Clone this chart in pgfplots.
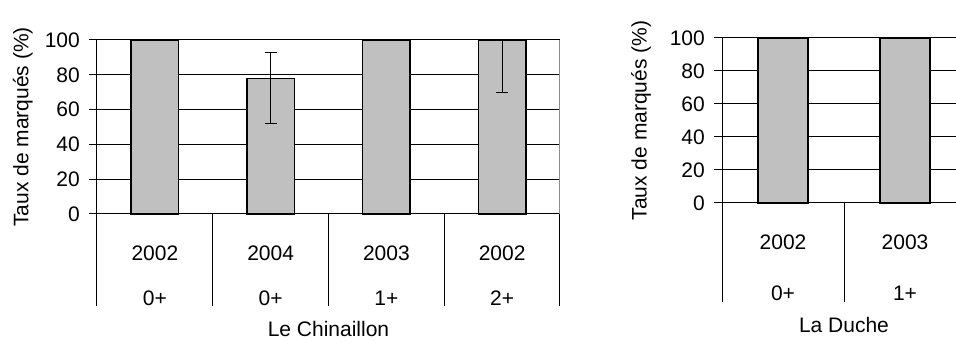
\documentclass[border=0pt]{standalone}
\usepackage{fontspec}
\setmainfont{Liberation Sans}
\usepackage{pgfplots}
\pgfplotsset{compat=1.18}
\definecolor{barfill}{HTML}{C0C0C0}
\definecolor{frame}{HTML}{8C8C8C}
\newcommand{\bigfont}{\fontsize{21}{25}\selectfont}
\pgfplotsset{
  common/.style={
    scale only axis,
    anchor=south west,
    ymin=0, ymax=100,
    ytick={0,20,...,80},
    extra y ticks={100},
    extra y tick style={grid style={frame, line width=1pt}},
    ymajorgrids,
    major grid style={black, line width=1pt},
    axis x line*=bottom,
    axis y line*=left,
    axis line style={black, line width=1pt},
    every outer x axis line/.append style={-},
    every outer y axis line/.append style={-},
    ytick align=outside,
    ytick style={black, line width=1pt},
    major tick length=8pt,
    xtick style={draw=none},
    /pgf/number format/assume math mode=true,
    yticklabel={\pgfmathprintnumber{\tick}},
    tick label style={font=\bigfont},
    label style={font=\bigfont},
    yticklabel style={anchor=east, inner sep=0pt, xshift=-9pt},
    xtick=data,
    xticklabel style={anchor=base, inner sep=0pt},
    extra x tick style={xtick style={draw=none}},
    clip=false,
    ybar,
    bar width=0.41,
    ylabel={Taux de marqués (\%)},
    ylabel style={anchor=center, rotate=0},
  },
  mybar/.style={fill=barfill, draw=black, line width=1.3pt,
    error bars/.cd, y dir=both, y explicit,
    error bar style={black, line width=1.2pt},
    error mark options={rotate=90, black, line width=1.2pt, mark size=6pt}},
}
\begin{document}
\bigfont
\begin{tikzpicture}
\begin{axis}[common,
  at={(97pt,128pt)},
  width=463pt, height=174pt,
  xmin=-0.5, xmax=3.5,
  xticklabels={2002,2004,2003,2002},
  xticklabel style={yshift=-39pt},
  extra x ticks={0,1,2,3},
  extra x tick labels={0+,0+,1+,2+},
  extra x tick style={xticklabel style={yshift=-45pt}},
  ylabel style={at={(axis description cs:-0.16,0.5)}},
  xlabel={Le Chinaillon},
  xlabel style={at={(axis description cs:0.5,0)}, anchor=base, yshift=-123pt},
]
\addplot[mybar] coordinates {
  (0,100) +- (0,0)
  (1,78) += (0,15) -= (0,26)
  (2,100) +- (0,0)
  (3,100) += (0,0) -= (0,30)
};
\pgfplotsinvokeforeach{-0.5,0.5,1.5,2.5,3.5}{
  \draw[black, line width=1pt] (axis cs:#1,0) -- ++(0pt,-92pt);
}
\draw[frame, line width=1pt] (rel axis cs:1,0) -- (rel axis cs:1,1);
\end{axis}
\begin{axis}[common,
  at={(722pt,139pt)},
  width=244pt, height=165pt,
  xmin=-0.5, xmax=1.5,
  xticklabels={2002,2003},
  xticklabel style={yshift=-38.5pt},
  extra x ticks={0,1},
  extra x tick labels={0+,1+},
  extra x tick style={xticklabel style={yshift=-50.5pt}},
  ylabel style={at={(axis description cs:-0.332,0.5)}},
  xlabel={La Duche},
  xlabel style={at={(axis description cs:0.5,0)}, anchor=base, yshift=-130pt},
]
\addplot[mybar] coordinates {
  (0,100) +- (0,0)
  (1,100) +- (0,0)
};
\pgfplotsinvokeforeach{-0.5,0.5,1.5}{
  \draw[black, line width=1pt] (axis cs:#1,0) -- ++(0pt,-99pt);
}
\end{axis}
\pgfresetboundingbox
\path[use as bounding box] (0,0) rectangle (956pt,342pt);
\end{tikzpicture}
\end{document}
